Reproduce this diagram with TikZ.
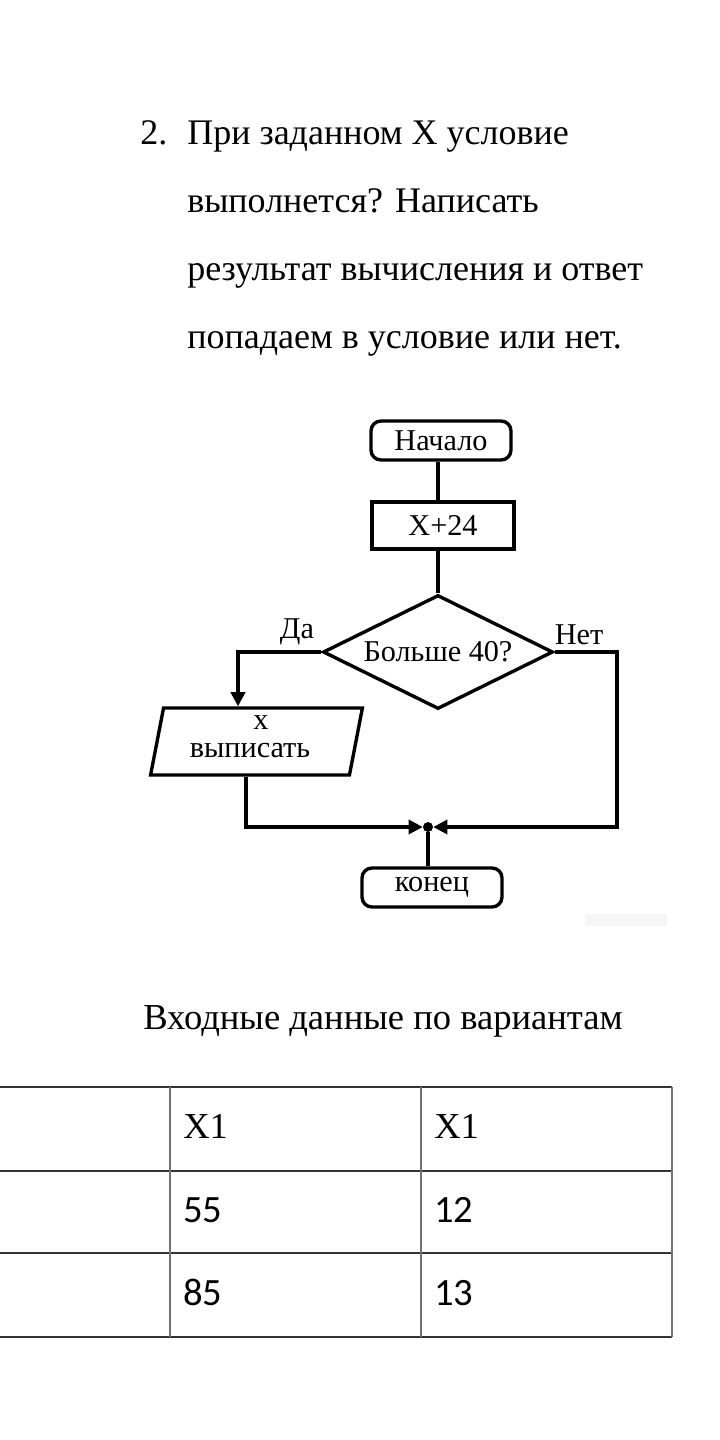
\documentclass[tikz,border=0pt]{standalone}
\usepackage{fontspec}
\setmainfont{Liberation Serif}
\newfontfamily\tabfont[Numbers=Lining]{Carlito}
\usetikzlibrary{positioning,arrows.meta,shapes.geometric}
\newcommand\flowfont{\rmfamily\fontsize{21.5}{24}\selectfont}

\begin{document}
\begin{tikzpicture}[x=0.025cm,y=-0.025cm,
    flow/.style={line width=2.4pt},
    flowarrow/.style={line width=2.4pt,-{Triangle[length=10pt,width=10pt]}},
    term/.style={draw,line width=2.4pt,rounded corners=0.25cm,inner sep=0pt,
      minimum width=3.5cm,minimum height=0.975cm,font=\flowfont},
    proc/.style={draw,line width=2.4pt,inner sep=0pt,
      minimum width=3.55cm,minimum height=1.175cm,font=\flowfont},
    decide/.style={draw,diamond,aspect=2,line width=2.4pt,inner sep=0pt,
      minimum width=5.75cm,minimum height=2.85cm,font=\flowfont},
    iobox/.style={draw,trapezium,trapezium left angle=60,trapezium right angle=120,
      trapezium stretches=true,line width=2.4pt,inner sep=0pt,font=\flowfont,
      minimum width=5.325cm,minimum height=1.675cm},
    flowtext/.style={anchor=base,inner sep=0pt,font=\flowfont},
    task/.style={anchor=base west,inner sep=0pt,font=\fontsize{25.6}{30}\selectfont},
    head/.style={anchor=base west,inner sep=0pt,font=\rmfamily\fontsize{26}{30}\selectfont},
    cell/.style={anchor=base west,inner sep=0pt,font=\tabfont\fontsize{27.5}{32}\selectfont},
    hline/.style={draw=black!80,line width=1.1pt},
    vline/.style={draw=black!55,line width=1.3pt}]
        \useasboundingbox (0,0) rectangle (720,1440);
        % task text
        \node[task] (num) at (140,144) {2.};
        \node[task] (line1) at (187,144) {При заданном X условие};
        \node[task] (line2) at (187,212) {выполнется? Написать};
        \node[task] (line3) at (187,280) {результат вычисления и ответ};
        \node[task] (line4) at (187,348) {попадаем в условие или нет.};
        % flowchart
        \node[term] (start) at (441,440.5) {Начало};
        \node[proc] (calc) at (443,525.5) {X+24};
        \node[decide] (dec) at (438,652) {Больше 40?};
        \node[iobox] (out) at (256.5,741.5) {\phantom{выписать}};
        \node[flowtext] (outx) at (261,729) {x};
        \node[flowtext] (outtxt) at (250,757) {выписать};
        \node[term] (end) at (432,887.5) {конец};
        \node[circle,fill,inner sep=0pt,minimum size=0.25cm] (join) at (428,827) {};
        \node[font=\flowfont] (yes) at (297,632) {Да};
        \node[font=\flowfont] (no) at (579,635) {Нет};
        \coordinate (yesturn) at (238,652);
        \coordinate (leftturn) at (246,827);
        \coordinate (rightturn) at (617,827);
        \draw[flow] (start.south -| dec.north) -- (calc.north -| dec.north);
        \draw[flow] (calc.south -| dec.north) -- (dec.north);
        \draw[flowarrow] (dec.west) -- (yesturn) -- (yesturn |- out.north);
        \draw[flowarrow] (leftturn |- out.south) -- (leftturn) -- (join);
        \draw[flowarrow] (dec.east) -| (rightturn) -- (join);
        \draw[flow] (join) -- (join |- end.north);
        \fill[black!4] (585,914) rectangle (667,926);
        % data table
        \node[anchor=base,inner sep=0pt,font=\rmfamily\fontsize{26}{30}\selectfont] (title) at (383,1029) {Входные данные по вариантам};
        \draw[hline] (0,1087) -- (672,1087);
        \draw[hline] (0,1171) -- (672,1171);
        \draw[hline] (0,1253) -- (672,1253);
        \draw[hline] (0,1337) -- (672,1337);
        \draw[vline] (170,1087) -- (170,1337);
        \draw[vline] (421,1087) -- (421,1337);
        \draw[vline] (672,1087) -- (672,1337);
        \node[head] (h1) at (183,1138) {X1};
        \node[head] (h2) at (434,1138) {X1};
        \node[cell] (a1) at (183,1222) {55};
        \node[cell] (a2) at (434,1222) {12};
        \node[cell] (b1) at (183,1305) {85};
        \node[cell] (b2) at (434,1305) {13};
\end{tikzpicture}
\end{document}
